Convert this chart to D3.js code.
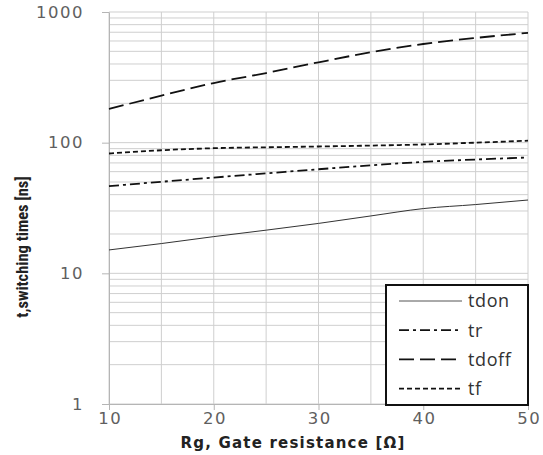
<!DOCTYPE html>
<html>
<head>
<meta charset="utf-8">
<script src="https://cdn.jsdelivr.net/npm/d3@7"></script>
<style>
  body { margin: 0; background: #fff; }
  svg { display: block; }
</style>
</head>
<body>
<div id="chart-holder"></div>
<script>
// gate resistance values (x) and switching times (ns)
var rg = [10, 15, 20, 25, 30, 35, 40, 45, 50];
var tdon = [15.1, 16.9, 19.1, 21.4, 24.1, 27.5, 31.3, 33.6, 36.4];
var tr = [46.5, 50.2, 54.1, 58.2, 62.6, 67.0, 71.3, 74.3, 77.0];
var tdoff = [181, 229, 286, 341, 412, 492, 569, 633, 692];
var tf = [82.6, 87.5, 90.7, 92.2, 93.5, 95.0, 96.9, 100.0, 103.5];

var seriesNames = ["tdon", "tr", "tdoff", "tf"];
var xTicks = [10, 20, 30, 40, 50];
var yTicks = [1, 10, 100, 1000];

// set dimensions of the graph
var margin = { top: 12, right: 15, bottom: 51, left: 109 },
  width = 543 - margin.left - margin.right,
  height = 455 - margin.top - margin.bottom;

var svg = d3.select("#chart-holder").append("svg")
  .attr("width", 543)
  .attr("height", 455)
  .append("g")
  .attr("transform", "translate(" + margin.left + "," + margin.top + ")");

var x = d3.scaleLinear().domain([10, 50]).range([0, width]);
var y = d3.scaleLog().domain([1, 1000]).range([height, 0]);

// minor horizontal gridlines (1..9 in every decade)
var gridVals = [];
for (var d = 1; d < 1000; d *= 10) {
  for (var k = 1; k <= 9; k++) gridVals.push(d * k);
}
gridVals.push(1000);

svg.append("g").selectAll("line")
  .data(gridVals)
  .enter().append("line")
  .attr("x1", 0).attr("x2", width)
  .attr("y1", function (v) { return y(v); })
  .attr("y2", function (v) { return y(v); })
  .attr("stroke", "#cfcfcf")
  .attr("stroke-width", 1);

// vertical gridlines every 5 ohm
svg.append("g").selectAll("line")
  .data(d3.range(10, 51, 5))
  .enter().append("line")
  .attr("x1", function (v) { return x(v); })
  .attr("x2", function (v) { return x(v); })
  .attr("y1", 0).attr("y2", height)
  .attr("stroke", "#cfcfcf")
  .attr("stroke-width", 1);

// axes
var xAxis = svg.append("g")
  .attr("transform", "translate(0," + height + ")")
  .call(d3.axisBottom(x).tickValues(xTicks).tickSize(6).tickSizeOuter(0).tickFormat(d3.format("d")));
var yAxis = svg.append("g")
  .call(d3.axisLeft(y).tickValues(yTicks).tickSize(7).tickSizeOuter(0).tickFormat(d3.format("d")));

[xAxis, yAxis].forEach(function (a) {
  a.select(".domain").attr("stroke", "#b5b5b5");
  a.selectAll(".tick line").attr("stroke", "#b5b5b5");
  a.selectAll("text")
    .attr("fill", "#5f5f5f")
    .style("font-family", "'DejaVu Sans', sans-serif")
    .style("font-size", "16.5px")
    .style("letter-spacing", "1.5px");
});
xAxis.selectAll("text").attr("dy", "0.95em").attr("y", 4).attr("dx", 0.75);
yAxis.selectAll("text").attr("x", -25);

// series lines
var lineStyles = {
  tdon: { data: tdon, dash: null, width: 1 },
  tr: { data: tr, dash: "10,4,3,4", width: 1.8 },
  tdoff: { data: tdoff, dash: "15,6", width: 1.8 },
  tf: { data: tf, dash: "5,3", width: 1.8 }
};

var line = d3.line()
  .x(function (p) { return x(p[0]); })
  .y(function (p) { return y(p[1]); })
  .curve(d3.curveMonotoneX);

seriesNames.forEach(function (name) {
  var s = lineStyles[name];
  svg.append("path")
    .datum(rg.map(function (r, i) { return [r, s.data[i]]; }))
    .attr("d", line)
    .attr("fill", "none")
    .attr("stroke", name == "tdon" ? "#333" : "#111")
    .attr("stroke-width", s.width)
    .attr("stroke-dasharray", s.dash);
});

// legend box in the lower right corner
var legend = svg.append("g")
  .attr("transform", "translate(" + (width - 142) + "," + (height - 119) + ")");
legend.append("rect")
  .attr("width", 142)
  .attr("height", 120)
  .attr("fill", "#fff")
  .attr("stroke", "#111")
  .attr("stroke-width", 2);

seriesNames.forEach(function (name, i) {
  var s = lineStyles[name];
  var ly = 16 + i * 29.2;
  legend.append("line")
    .attr("x1", 13).attr("x2", 76)
    .attr("y1", ly).attr("y2", ly)
    .attr("stroke", name == "tdon" ? "#555" : "#111")
    .attr("stroke-width", s.width)
    .attr("stroke-dasharray", s.dash);
  legend.append("text")
    .attr("x", 82)
    .attr("y", ly)
    .attr("dy", "0.35em")
    .attr("fill", "#333")
    .style("font-family", "'Open Sans', sans-serif")
    .style("font-size", "18px")
    .style("letter-spacing", "0.6px")
    .text(name);
});

// axis titles
svg.append("text")
  .attr("x", (178 + 408) / 2 - margin.left)
  .attr("y", height + 44)
  .attr("text-anchor", "middle")
  .attr("fill", "#222")
  .style("font-family", "'DejaVu Sans', sans-serif")
  .style("font-weight", "bold")
  .style("font-size", "15px")
  .style("letter-spacing", "1.2px")
  .text("Rg, Gate resistance [Ω]");

svg.append("text")
  .attr("transform", "translate(" + (28 - margin.left) + "," + (247 - margin.top) + ")rotate(-90)")
  .attr("text-anchor", "middle")
  .attr("fill", "#222")
  .style("font-family", "'Liberation Sans Narrow', 'Roboto Condensed', sans-serif")
  .style("font-size", "16.5px")
  .style("font-weight", "bold")
  .text("t,switching times [ns]");
</script>
</body>
</html>
